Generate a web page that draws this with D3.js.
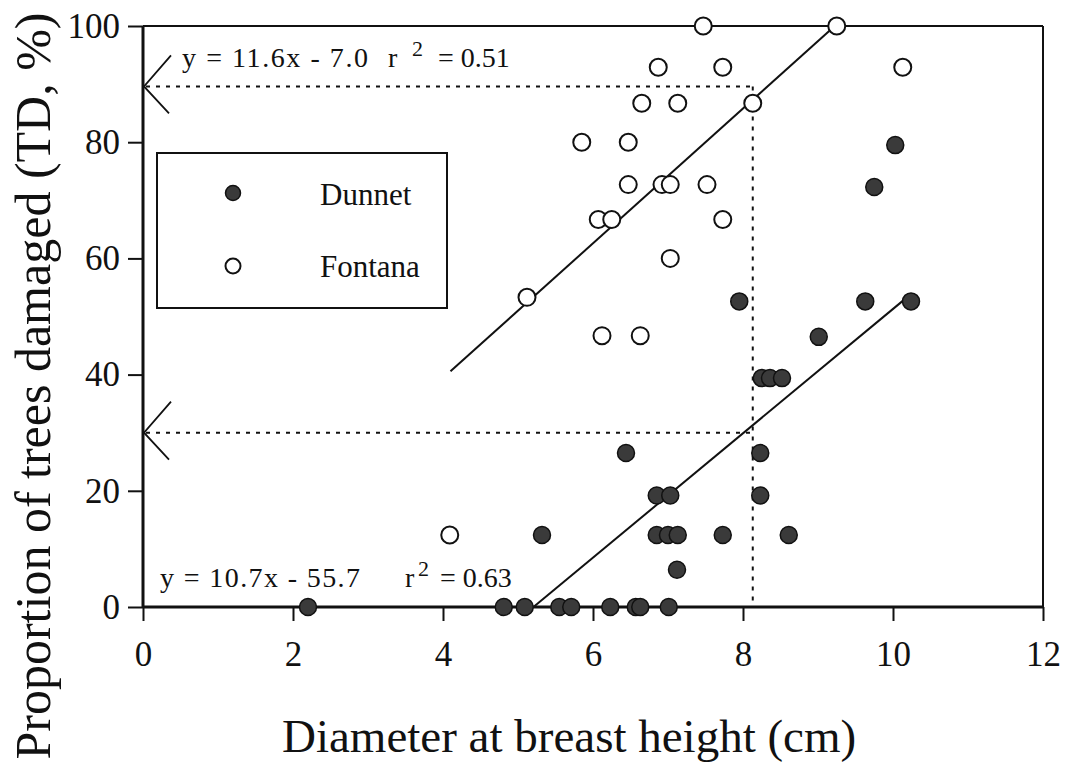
<!DOCTYPE html>
<html>
<head>
<meta charset="utf-8">
<script src="https://cdn.jsdelivr.net/npm/d3@7"></script>
<style>
  html, body { margin: 0; padding: 0; background: #fff; }
  svg { display: block; }
  svg text { font-family: "Liberation Serif", "Tinos", "Times New Roman", "DejaVu Serif", "Noto Serif", serif; fill: #111; }
</style>
</head>
<body>
<svg id="chart" width="1068" height="769"></svg>
<script>
// ---- data ----
const xTicks = [0, 2, 4, 6, 8, 10, 12];
const yTicks = [0, 20, 40, 60, 80, 100];

const fontanaX = [7.47, 9.25, 6.87, 7.73, 10.13, 6.65, 7.13, 8.13, 5.85, 6.47, 6.47, 6.92, 7.03, 7.52, 6.07, 6.25, 7.73, 7.03, 5.12, 6.12, 6.63, 4.09];
const fontanaY = [100, 100, 92.9, 92.9, 92.9, 86.7, 86.7, 86.7, 80, 80, 72.7, 72.7, 72.7, 72.7, 66.7, 66.7, 66.7, 60, 53.3, 46.7, 46.7, 12.4];

const dunnetX = [2.2, 4.81, 5.09, 5.55, 5.71, 6.23, 6.57, 6.63, 7.01, 7.12, 5.32, 6.85, 7.0, 7.13, 7.73, 8.61, 6.85, 7.03, 8.23, 6.44, 8.23, 8.25, 8.36, 8.52, 9.01, 7.95, 9.63, 10.24, 9.75, 10.03];
const dunnetY = [0, 0, 0, 0, 0, 0, 0, 0, 0, 6.4, 12.4, 12.4, 12.4, 12.4, 12.4, 12.4, 19.2, 19.2, 19.2, 26.5, 26.5, 39.4, 39.4, 39.4, 46.5, 52.6, 52.6, 52.6, 72.3, 79.5];

// regression fits: slope, intercept, x-range of drawn line
const fontanaFit = { slope: 11.6, intercept: -7.0, x0: 4.1, x1: 9.22 };
const dunnetFit  = { slope: 10.7, intercept: -55.7, x0: 5.21, x1: 10.15 };

// reference (dotted) lines
const refX = 8.13;
const refY = [89.6, 30];

const seriesNames = ["Dunnet", "Fontana"];
const xLabel = "Diameter at breast height (cm)";
const yLabel = "Proportion of trees damaged (TD, %)";

// ---- drawing ----
const FONT = '"Liberation Serif", "Tinos", "Times New Roman", "DejaVu Serif", "Noto Serif", serif';
const svg = d3.select("#chart");
const x = d3.scaleLinear().domain([0, 12]).range([143, 1043]);
const y = d3.scaleLinear().domain([0, 100]).range([607, 26]);

// axes
const gx = svg.append("g").attr("transform", `translate(0,${y(0)})`)
  .call(d3.axisBottom(x).tickValues(xTicks).tickSize(14).tickPadding(20).tickFormat(d3.format("d")));
gx.select(".domain").remove();
gx.selectAll("line").attr("stroke", "#111").attr("stroke-width", 2);
gx.selectAll("text").attr("font-size", 35).attr("font-family", FONT).attr("fill", "#111");

const gy = svg.append("g").attr("transform", `translate(${x(0)},0)`)
  .call(d3.axisLeft(y).tickValues(yTicks).tickSize(15).tickPadding(8).tickFormat(d3.format("d")));
gy.select(".domain").remove();
gy.selectAll("line").attr("stroke", "#111").attr("stroke-width", 2);
gy.selectAll("text").attr("font-size", 35).attr("font-family", FONT).attr("fill", "#111");

// frame
svg.append("line").attr("x1", x(0)).attr("x2", x(12)).attr("y1", y(100)).attr("y2", y(100)).attr("stroke", "#111").attr("stroke-width", 2);
svg.append("line").attr("x1", x(12)).attr("x2", x(12)).attr("y1", y(100)).attr("y2", y(0)).attr("stroke", "#111").attr("stroke-width", 2);
svg.append("line").attr("x1", x(0)).attr("x2", x(12)).attr("y1", y(0)).attr("y2", y(0)).attr("stroke", "#111").attr("stroke-width", 3);
svg.append("line").attr("x1", x(0)).attr("x2", x(0)).attr("y1", y(100)).attr("y2", y(0)).attr("stroke", "#111").attr("stroke-width", 3);

// dotted reference lines
refY.forEach(v => {
  svg.append("line").attr("x1", x(0) + 3).attr("x2", x(refX)).attr("y1", y(v)).attr("y2", y(v))
    .attr("stroke", "#111").attr("stroke-width", 2).attr("stroke-dasharray", "4,6");
  svg.append("path")
    .attr("d", `M${x(0) + 28},${y(v) - 31} L${x(0) + 1},${y(v)} L${x(0) + 26},${y(v) + 27}`)
    .attr("fill", "none").attr("stroke", "#111").attr("stroke-width", 1.8);
});
svg.append("line").attr("x1", x(refX)).attr("x2", x(refX)).attr("y1", y(refY[0])).attr("y2", y(0))
  .attr("stroke", "#111").attr("stroke-width", 2).attr("stroke-dasharray", "4,6");

// regression lines
[fontanaFit, dunnetFit].forEach(f => {
  svg.append("line")
    .attr("x1", x(f.x0)).attr("y1", y(f.slope * f.x0 + f.intercept))
    .attr("x2", x(f.x1)).attr("y2", y(f.slope * f.x1 + f.intercept))
    .attr("stroke", "#111").attr("stroke-width", 2);
});

// points
const R = 8.5;
svg.append("g").selectAll("circle").data(d3.range(fontanaX.length)).join("circle")
  .attr("cx", i => x(fontanaX[i])).attr("cy", i => y(fontanaY[i])).attr("r", R)
  .attr("fill", "#fff").attr("stroke", "#111").attr("stroke-width", 2);
svg.append("g").selectAll("circle").data(d3.range(dunnetX.length)).join("circle")
  .attr("cx", i => x(dunnetX[i])).attr("cy", i => y(dunnetY[i])).attr("r", R)
  .attr("fill", "#3a3a3a").attr("stroke", "#111").attr("stroke-width", 1.5);

// legend
svg.append("rect").attr("x", 157).attr("y", 153).attr("width", 290).attr("height", 155)
  .attr("fill", "none").attr("stroke", "#111").attr("stroke-width", 2);
svg.append("circle").attr("cx", 233).attr("cy", 193).attr("r", 7.5).attr("fill", "#3a3a3a").attr("stroke", "#111").attr("stroke-width", 1.5);
svg.append("circle").attr("cx", 233).attr("cy", 266).attr("r", 7.5).attr("fill", "#fff").attr("stroke", "#111").attr("stroke-width", 2);
svg.append("text").attr("x", 320).attr("y", 205).attr("font-size", 31).attr("font-family", FONT).text(seriesNames[0]);
svg.append("text").attr("x", 320).attr("y", 277).attr("font-size", 31).attr("font-family", FONT).text(seriesNames[1]);

// equations
function eq(xs, base, main, mainLen, r2x, supx, rest, restx) {
  svg.append("text").attr("x", xs).attr("y", base).attr("font-size", 28).attr("font-family", FONT)
    .attr("textLength", mainLen).attr("lengthAdjust", "spacing").text(main);
  svg.append("text").attr("x", r2x).attr("y", base).attr("font-size", 28).attr("font-family", FONT).text("r");
  svg.append("text").attr("x", supx).attr("y", base - 11).attr("font-size", 22).attr("font-family", FONT).text("2");
  svg.append("text").attr("x", restx).attr("y", base).attr("font-size", 28).attr("font-family", FONT).text(rest);
}
eq(182, 67, "y = 11.6x - 7.0", 186, 388, 412, "= 0.51", 438);
eq(160, 587, "y = 10.7x - 55.7", 200, 405, 418, "= 0.63", 440);

// axis titles
svg.append("text").attr("x", 282).attr("y", 752).attr("font-size", 47).attr("font-family", FONT).text(xLabel);
svg.append("text").attr("transform", "translate(50,386) rotate(-90)").attr("text-anchor", "middle")
  .attr("font-size", 50).attr("font-family", FONT).text(yLabel);
</script>
</body>
</html>
